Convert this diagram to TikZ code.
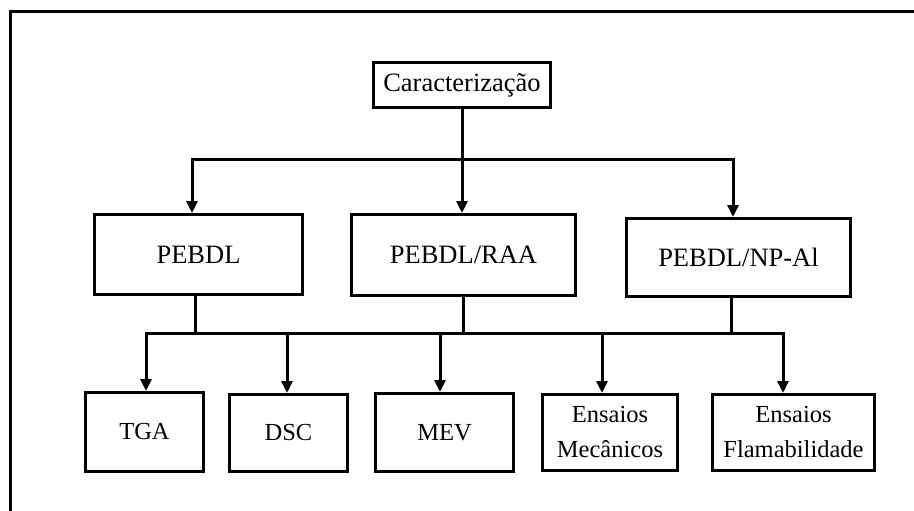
\documentclass[tikz,border=0pt]{standalone}
\usepackage{fontspec}
\setmainfont{Liberation Serif}
\usetikzlibrary{arrows.meta}
\begin{document}
\begin{tikzpicture}[x=1pt,y=-1pt,
  box/.style={draw, line width=3pt, inner sep=0pt, align=center,
    font=\fontsize{26.5}{32}\selectfont},
  leaf/.style={box, font=\fontsize{24.5}{35}\selectfont},
  wire/.style={line width=3pt},
  feed/.style={wire, -{Triangle[width=11pt,length=12pt]}}]
\useasboundingbox (0,0) rectangle (914,511);

% page frame (top and left rules)
\draw[wire] (10,511) -- (10,12) -- (914,12);

% root
\node[box, minimum width=177pt, minimum height=45pt] (car) at (462,85) {Caracterização};

% materials
\node[box, minimum width=208pt, minimum height=80pt] (pe)  at (198.5,254.5) {PEBDL};
\node[box, minimum width=224pt, minimum height=81pt] (raa) at (463.5,255) {PEBDL/RAA};
\node[box, minimum width=224pt, minimum height=78pt] (np)  at (738.5,257.5) {PEBDL/NP-Al};

% techniques
\node[leaf, minimum width=118pt, minimum height=79pt] (tga)  at (144.5,432) {TGA};
\node[leaf, minimum width=118pt, minimum height=77pt] (dsc)  at (288.5,433) {DSC};
\node[leaf, minimum width=138pt, minimum height=78pt] (mev)  at (444.5,432.5) {MEV};
\node[leaf, minimum width=135pt, minimum height=76pt] (mec)  at (610,432.5) {Ensaios\\Mecânicos};
\node[leaf, minimum width=162pt, minimum height=76pt] (flam) at (793.5,432.5) {Ensaios\\Flamabilidade};

% root to materials
\coordinate (hub) at (462,159);
\draw[wire] (car) -- (hub);
\draw[feed] (hub) -| ([xshift=-6.5pt]pe.north);
\draw[feed] (hub) -- (hub |- raa.north);
\draw[feed] (hub) -| ([xshift=-5.5pt]np.north);

% materials to techniques
\coordinate (low) at (463.5,333);
\draw[wire] ([xshift=-3.5pt]pe.south) |- (low);
\draw[wire] (raa) -- (low);
\draw[wire] ([xshift=-7.5pt]np.south) |- (low);
\draw[feed] (low) -| ([xshift=1.5pt]tga.north);
\draw[feed] (low) -| ([xshift=-1.5pt]dsc.north);
\draw[feed] (low) -| ([xshift=-4.5pt]mev.north);
\draw[feed] (low) -| ([xshift=-8pt]mec.north);
\draw[feed] (low) -| ([xshift=-10.5pt]flam.north);
\end{tikzpicture}
\end{document}
